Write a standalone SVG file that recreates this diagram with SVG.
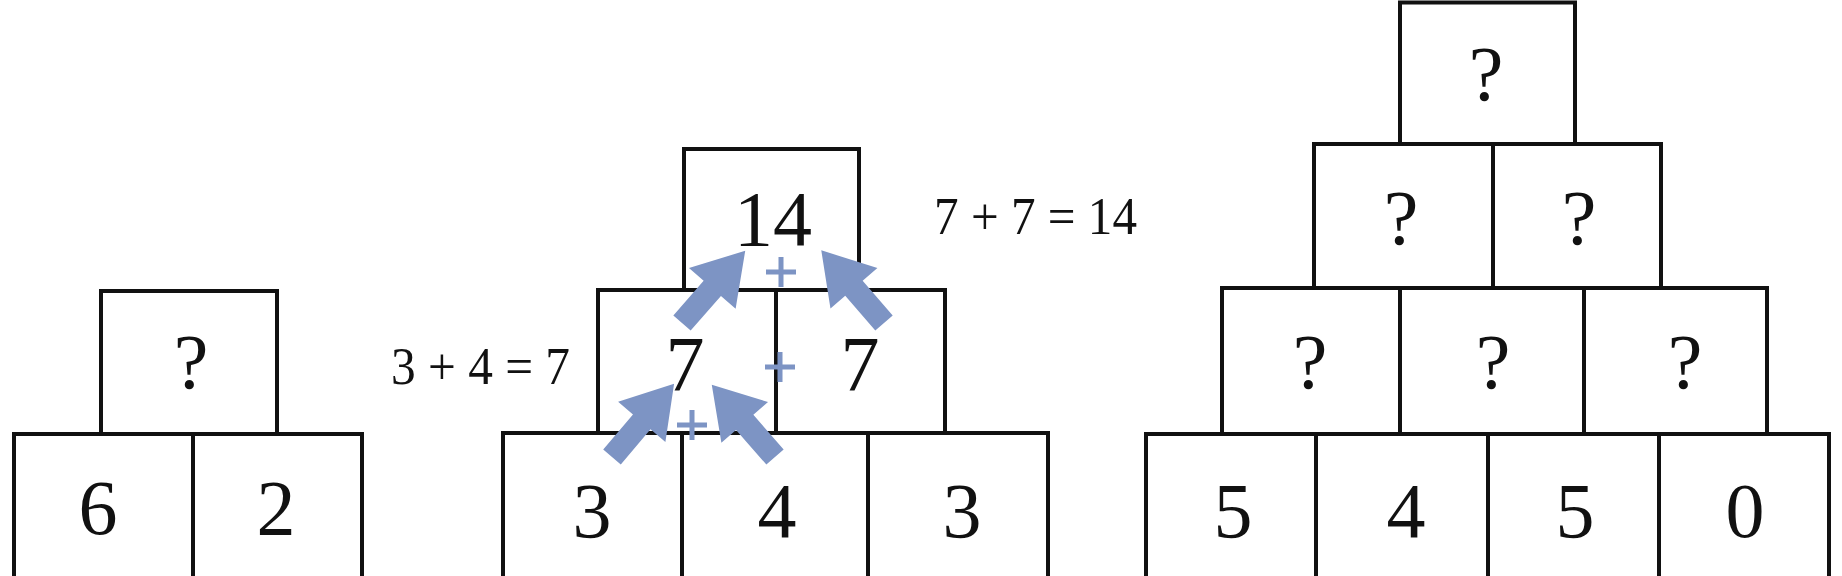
<svg xmlns="http://www.w3.org/2000/svg" xmlns:xlink="http://www.w3.org/1999/xlink" width="1842" height="576" viewBox="0 0 1842 576">
<style>
.b{fill:#fff;stroke:#111;stroke-width:4}
.t{font-family:"Liberation Serif","DejaVu Serif",serif;font-size:78px;fill:#111;text-anchor:middle}
.e{font-family:"Liberation Serif","DejaVu Serif",serif;font-size:52px;fill:#111}
.p{stroke:#7d94c4;stroke-width:5;fill:none}
</style>
<defs>
<path id="arr" d="M0,-11.5 L46,-11.5 L46,-31 L96,0 L46,31 L46,11.5 L0,11.5 Z" fill="#7d94c4"/>
</defs>
<rect width="1842" height="576" fill="#fff"/>
<g id="left-pyramid">
<g id="L-top"><rect class="b" x="101" y="291" width="176" height="143"/><text class="t" x="191" y="388">?</text></g>
<g id="L-b1"><rect class="b" x="14" y="434" width="179" height="150"/><text class="t" x="98" y="534">6</text></g>
<g id="L-b2"><rect class="b" x="193" y="434" width="169" height="150"/><text class="t" x="276" y="534">2</text></g>
</g>
<g id="middle-pyramid">
<g id="M-top"><rect class="b" x="684" y="149" width="175" height="141"/><text class="t" x="773" y="245">14</text></g>
<g id="M-r2a"><rect class="b" x="598" y="290" width="178" height="143"/><text class="t" x="685" y="390">7</text></g>
<g id="M-r2b"><rect class="b" x="776" y="290" width="169" height="143"/><text class="t" x="860" y="390">7</text></g>
<g id="M-b1"><rect class="b" x="503" y="433" width="179" height="150"/><text class="t" x="592" y="537">3</text></g>
<g id="M-b2"><rect class="b" x="682" y="433" width="186" height="150"/><text class="t" x="777" y="537">4</text></g>
<g id="M-b3"><rect class="b" x="868" y="433" width="180" height="150"/><text class="t" x="962" y="537">3</text></g>
</g>
<g id="right-pyramid">
<g id="R-top"><rect class="b" x="1400" y="2.5" width="175" height="141.5"/><text class="t" x="1486" y="100">?</text></g>
<g id="R-r2a"><rect class="b" x="1314" y="144" width="179" height="144"/><text class="t" x="1401" y="244">?</text></g>
<g id="R-r2b"><rect class="b" x="1493" y="144" width="168" height="144"/><text class="t" x="1579" y="244">?</text></g>
<g id="R-r3a"><rect class="b" x="1222" y="288" width="178" height="146"/><text class="t" x="1310" y="388">?</text></g>
<g id="R-r3b"><rect class="b" x="1400" y="288" width="184" height="146"/><text class="t" x="1493" y="388">?</text></g>
<g id="R-r3c"><rect class="b" x="1584" y="288" width="183" height="146"/><text class="t" x="1685" y="388">?</text></g>
<g id="R-b1"><rect class="b" x="1146" y="434" width="170" height="150"/><text class="t" x="1233" y="537">5</text></g>
<g id="R-b2"><rect class="b" x="1316" y="434" width="172" height="150"/><text class="t" x="1406" y="537">4</text></g>
<g id="R-b3"><rect class="b" x="1488" y="434" width="171" height="150"/><text class="t" x="1575" y="537">5</text></g>
<g id="R-b4"><rect class="b" x="1659" y="434" width="170" height="150"/><text class="t" x="1745" y="537">0</text></g>
</g>
<g id="equations">
<text class="e" x="391" y="384" textLength="179" lengthAdjust="spacingAndGlyphs">3 + 4 = 7</text>
<text class="e" x="934" y="234" textLength="203" lengthAdjust="spacingAndGlyphs">7 + 7 = 14</text>
</g>
<g id="connectors">
<use xlink:href="#arr" transform="translate(612,457) rotate(-49.7)"/>
<use xlink:href="#arr" transform="translate(775,457) rotate(-131.2)"/>
<use xlink:href="#arr" transform="translate(682,323) rotate(-48.8)"/>
<use xlink:href="#arr" transform="translate(884,323) rotate(-130.8)"/>
<path class="p" d="M677,425 H707 M692,410 V440"/>
<path class="p" d="M766,272 H796 M781,257 V287"/>
<path class="p" d="M765,367 H795 M780,352 V382"/>
</g>
</svg>
